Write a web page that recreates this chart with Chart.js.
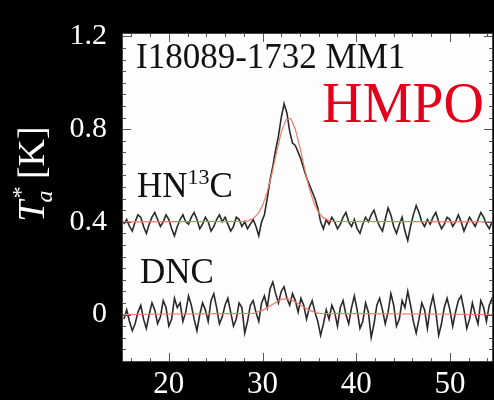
<!DOCTYPE html>
<html>
<head>
<meta charset="utf-8">
<script src="https://cdn.jsdelivr.net/npm/chart.js@4.4.0/dist/chart.umd.min.js"></script>
<style>
html, body { margin: 0; padding: 0; background: #000; }
canvas { display: block; }
</style>
</head>
<body>
<canvas id="spec" width="494" height="400"></canvas>
<script>
// channel grid (km/s)
const vStart = 15.2;
const vStep = 0.3;

// HN13C spectrum, offset by +0.4 K
const hn13c = [
  0.39,0.41,0.38,0.36,0.40,0.43,0.42,0.38,0.35,0.39,
  0.42,0.44,0.41,0.38,0.40,0.43,0.41,0.37,0.34,0.38,
  0.41,0.43,0.40,0.39,0.42,0.44,0.41,0.37,0.39,0.42,
  0.40,0.36,0.38,0.41,0.43,0.40,0.42,0.39,0.36,0.38,
  0.42,0.41,0.38,0.40,0.37,0.39,0.41,
  0.38,0.34,0.40,0.43,0.50,0.58,0.64,0.71,0.77,0.85,
  0.91,0.87,0.79,0.74,0.73,0.70,0.67,0.63,0.59,0.56,
  0.53,0.50,0.46,0.40,0.37,
  0.41,0.39,0.42,0.40,0.37,0.39,0.42,0.44,0.40,0.38,
  0.41,0.37,0.35,0.39,0.42,0.40,0.43,0.45,0.41,0.38,
  0.36,0.41,0.46,0.43,0.38,0.35,0.39,0.42,0.36,0.32,
  0.38,0.43,0.47,0.44,0.40,0.38,0.41,0.39,0.42,0.44,
  0.40,0.37,0.39,0.42,0.41,0.38,0.40,0.43,0.40,0.36,
  0.39,0.42,0.40,0.38,0.41,0.44,0.42,0.39,0.37,0.40,
  0.41
];

// DNC spectrum
const dnc = [
  -0.02,0.02,-0.03,-0.07,-0.04,0.01,0.04,-0.02,-0.06,0.00,
  0.05,0.02,-0.04,-0.01,0.06,0.03,-0.05,-0.02,0.07,0.03,
  0.05,-0.03,0.01,0.08,0.04,-0.02,-0.07,0.00,0.05,0.02,
  -0.03,0.06,0.09,0.03,-0.04,-0.01,0.04,0.07,0.01,-0.05,
  -0.02,0.05,0.03,-0.08,-0.03,0.04,0.06,0.01,-0.03,0.05,
  0.08,0.03,0.11,0.14,0.09,0.05,0.10,0.12,0.07,0.04,
  0.09,0.06,0.01,0.07,0.04,-0.02,0.03,0.06,0.01,-0.03,
  -0.09,-0.04,0.02,-0.02,0.04,0.01,-0.05,0.03,0.06,0.00,
  -0.04,0.03,0.08,0.02,-0.06,-0.03,0.05,0.01,-0.10,-0.04,
  0.04,0.07,0.02,-0.04,0.01,0.09,0.04,-0.05,-0.02,0.06,
  0.03,0.10,0.04,-0.03,-0.08,-0.02,0.05,0.02,-0.06,0.03,
  0.08,0.01,-0.09,-0.04,0.03,0.07,0.02,-0.05,0.01,0.06,
  0.08,0.02,-0.06,-0.02,0.05,0.00,-0.04,0.06,0.03,-0.03,
  0.04,0.07,0.01
];

// gaussian fits
const hnFitV = [15, 28, 28.5, 29, 29.5, 30, 30.5, 31, 31.5, 32, 32.5, 33, 33.5, 34, 34.5, 35, 35.5, 36, 36.5, 37, 37.5, 54.6];
const hnFitT = [0.40, 0.402, 0.405, 0.414, 0.434, 0.470, 0.528, 0.608, 0.701, 0.787, 0.841, 0.846, 0.800, 0.720, 0.626, 0.542, 0.480, 0.439, 0.417, 0.407, 0.402, 0.40];
const dncFitV = [15, 29, 30, 31, 32, 33, 34, 35, 36, 54.6];
const dncFitT = [0, 0.005, 0.018, 0.042, 0.066, 0.066, 0.042, 0.018, 0.005, 0];

const xTicks = [20, 30, 40, 50];
const yTicks = [0, 0.4, 0.8, 1.2];

const serif = '"Liberation Serif", "Times New Roman", serif';

function pts(vs, ts) { return ts.map((t, i) => ({ x: vs[i], y: t })); }
function chan(ts) { return ts.map((t, i) => ({ x: +(vStart + i * vStep).toFixed(2), y: t })); }

const frameTicks = {
  id: 'frameTicks',
  beforeDraw(chart) {
    const { ctx, chartArea: a } = chart;
    ctx.save();
    ctx.fillStyle = '#fdfdfd';
    ctx.fillRect(a.left, a.top, a.width, a.height);
    ctx.restore();
  },
  afterDatasetsDraw(chart) {
    const { ctx, chartArea: a, scales: { x, y } } = chart;
    ctx.save();
    ctx.strokeStyle = '#555';
    ctx.lineWidth = 1;
    ctx.beginPath();
    for (let v = 16; v <= 54; v += 2) {
      const px = Math.round(x.getPixelForValue(v)) + 0.5;
      const len = v % 10 === 0 ? 9 : 4;
      ctx.moveTo(px, a.bottom); ctx.lineTo(px, a.bottom - len);
      ctx.moveTo(px, a.top); ctx.lineTo(px, a.top + len);
    }
    for (let k = -4; k <= 24; k++) {
      const v = k * 0.05;
      const py = Math.round(y.getPixelForValue(v)) + 0.5;
      if (py < a.top || py > a.bottom) continue;
      const len = k % 8 === 0 ? 9 : 4;
      ctx.moveTo(a.left, py); ctx.lineTo(a.left + len, py);
      ctx.moveTo(a.right, py); ctx.lineTo(a.right - len, py);
    }
    ctx.stroke();
    ctx.strokeStyle = '#444';
    ctx.strokeRect(a.left + 0.5, a.top + 0.5, a.width - 1, a.height - 1);
    ctx.restore();
  }
};

const labels = {
  id: 'labels',
  afterDraw(chart) {
    const ctx = chart.ctx;
    ctx.save();
    ctx.textBaseline = 'alphabetic';
    ctx.textAlign = 'left';
    ctx.fillStyle = '#111';
    ctx.font = '35px ' + serif;
    ctx.fillText('I18089-1732 MM1', 136, 68);
    ctx.fillText('DNC', 140, 283);
    ctx.fillText('HN', 137, 197);
    let w = ctx.measureText('HN').width;
    ctx.font = '22px ' + serif;
    ctx.fillText('13', 137 + w, 184);
    let w2 = ctx.measureText('13').width;
    ctx.font = '35px ' + serif;
    ctx.fillText('C', 137 + w + w2, 197);
    ctx.fillStyle = '#e3001b';
    ctx.font = '56px ' + serif;
    ctx.fillText('HMPO', 322, 122);

    // rotated y title: T_a* [K]
    ctx.fillStyle = '#fff';
    ctx.translate(44, 174);
    ctx.rotate(-Math.PI / 2);
    const big = '38px ' + serif, bigIt = 'italic 38px ' + serif, small = 'italic 24px ' + serif;
    ctx.font = bigIt; const wT = ctx.measureText('T').width;
    ctx.font = small; const wa = ctx.measureText('a').width; const ws = ctx.measureText('*').width;
    ctx.font = big; const wK = ctx.measureText(' [K]').width;
    let x0 = -(wT + Math.max(wa, ws) + wK) / 2;
    ctx.font = bigIt; ctx.fillText('T', x0, 0);
    x0 += wT;
    ctx.font = small; ctx.fillText('a', x0 - 2, 8);
    ctx.fillText('*', x0 + 1, -16);
    x0 += Math.max(wa, ws);
    ctx.font = big; ctx.fillText(' [K]', x0, 0);
    ctx.restore();
  }
};

new Chart(document.getElementById('spec'), {
  type: 'line',
  data: {
    datasets: [
      { label: 'HN13C fit', data: pts(hnFitV, hnFitT), borderColor: '#f07a68', borderWidth: 1.2 },
      { label: 'DNC fit', data: pts(dncFitV, dncFitT), borderColor: '#f07a68', borderWidth: 1.2 },
      { label: 'HN13C', data: chan(hn13c), borderColor: '#2a2a2a', borderWidth: 1.6 },
      { label: 'DNC', data: chan(dnc), borderColor: '#2a2a2a', borderWidth: 1.6 }
    ]
  },
  options: {
    responsive: false,
    animation: false,
    layout: { padding: { top: 19, right: 1, left: 0, bottom: 0 } },
    elements: { point: { radius: 0 }, line: { tension: 0, fill: false } },
    plugins: { legend: { display: false }, tooltip: { enabled: false } },
    scales: {
      x: {
        type: 'linear',
        min: 15,
        max: 54.6,
        grid: { display: false, drawTicks: false },
        border: { display: false },
        afterFit(s) { s.height = 38; },
        afterBuildTicks(s) { s.ticks = xTicks.map(v => ({ value: v })); },
        ticks: {
          color: '#fff',
          font: { family: serif, size: 31 },
          padding: 4,
          maxRotation: 0,
          autoSkip: false
        }
      },
      y: {
        type: 'linear',
        min: -0.205,
        max: 1.215,
        grid: { display: false, drawTicks: false },
        border: { display: false },
        afterFit(s) { s.width = 122; },
        afterBuildTicks(s) { s.ticks = yTicks.map(v => ({ value: v })); },
        ticks: {
          color: '#fff',
          font: { family: serif, size: 30 },
          padding: 15,
          autoSkip: false,
          callback: v => String(v)
        }
      }
    }
  },
  plugins: [frameTicks, labels]
});
</script>
</body>
</html>
